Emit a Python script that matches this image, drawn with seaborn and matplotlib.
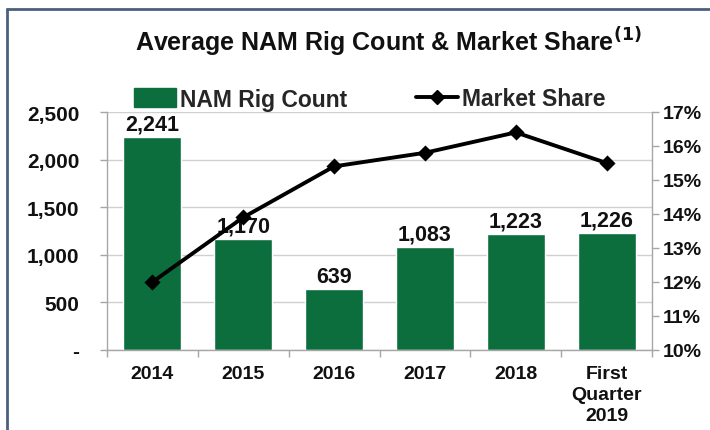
import matplotlib
matplotlib.use("Agg")
import matplotlib.pyplot as plt
import seaborn as sns
import pandas as pd
from matplotlib.lines import Line2D
from matplotlib.ticker import FixedLocator

categories = ["2014", "2015", "2016", "2017", "2018", "First\nQuarter\n2019"]
rig_count = [2241, 1170, 639, 1083, 1223, 1226]
market_share = [12.0, 13.9, 15.4, 15.8, 16.4, 15.5]
rig_labels = ["2,241", "1,170", "639", "1,083", "1,223", "1,226"]
left_ticks = [0, 500, 1000, 1500, 2000, 2500]
left_tick_labels = ["-", "500", "1,000", "1,500", "2,000", "2,500"]
right_ticks = [10, 11, 12, 13, 14, 15, 16, 17]
right_tick_labels = ["10%", "11%", "12%", "13%", "14%", "15%", "16%", "17%"]

GREEN = "#0b6e3c"
GREY = "#a6a6a6"
TXT = "#111111"

sns.set_theme(style="white")
plt.rcParams["font.family"] = ["Liberation Sans", "DejaVu Sans"]
plt.rcParams["font.weight"] = "bold"

df = pd.DataFrame({"cat": categories, "rigs": rig_count, "share": market_share})

fig = plt.figure(figsize=(7.10, 4.31), dpi=100)
ax = fig.add_axes([107 / 710, 1 - 351 / 431, (652 - 107) / 710, (351 - 113) / 431])

sns.barplot(data=df, x="cat", y="rigs", color=GREEN, saturation=1, width=0.64,
            ax=ax, zorder=2)
ax.set_ylim(0, 2500)
ax.set_yticks(left_ticks)
ax.set_yticklabels(left_tick_labels, fontsize=15, fontweight="bold", color=TXT)
ax.yaxis.grid(True, color="#d0d0d0", linewidth=1)
ax.set_axisbelow(True)
ax.set_xlabel("")
ax.set_ylabel("")
ax.set_xlim(-0.5, len(categories) - 0.5)
ax.tick_params(axis="x", which="major", length=0, pad=11, labelsize=14, labelcolor=TXT)
for lab in ax.get_xticklabels():
    lab.set_fontweight("bold")
    lab.set_linespacing(1.3)
ax.xaxis.set_minor_locator(FixedLocator([i - 0.5 for i in range(len(categories) + 1)]))
ax.tick_params(axis="x", which="minor", length=5, color=GREY, width=1, bottom=True)
ax.tick_params(axis="y", length=5, color=GREY, width=1, left=True, pad=15)
for s in ["top", "right"]:
    ax.spines[s].set_visible(False)
for s in ["left", "bottom"]:
    ax.spines[s].set_color(GREY)
    ax.spines[s].set_linewidth(1)

for i, (v, lab) in enumerate(zip(rig_count, rig_labels)):
    ax.text(i, v + 25, lab, ha="center", va="bottom", fontsize=15.5, fontweight="bold",
            color=TXT, zorder=5)

ax2 = ax.twinx()
sns.pointplot(data=df, x="cat", y="share", ax=ax2, color="black", markers="D",
              linestyles="-", markersize=6.5, linewidth=2.8, zorder=4)
ax2.set_ylim(10, 17)
ax2.set_yticks(right_ticks)
ax2.set_yticklabels(right_tick_labels, fontsize=14, fontweight="bold", color=TXT)
ax2.set_ylabel("")
ax2.set_xlabel("")
ax2.tick_params(axis="y", length=5, color=GREY, width=1, right=True, pad=3)
for s in ["top", "left", "bottom"]:
    ax2.spines[s].set_visible(False)
ax2.spines["right"].set_color(GREY)
ax2.spines["right"].set_linewidth(1)

fig.text(388 / 710, 1 - 42 / 431, "Average NAM Rig Count & Market Share$^{\\mathbf{(1)}}$",
         ha="center", va="center", fontsize=18, fontweight="bold", color=TXT)

handles = [
    plt.Rectangle((0, 0), 1, 1, color=GREEN),
    Line2D([0], [0], color="black", marker="D", markersize=7, linewidth=2.8),
]
fig.legend(handles, ["NAM Rig Count", "Market Share"], loc="center",
           bbox_to_anchor=(370 / 710, 1 - 100 / 431), ncol=2, frameon=False,
           prop={"size": 16.5, "weight": "bold"}, handlelength=1.8, handletextpad=0.2,
           columnspacing=3.0, handleheight=0.9)

fig.add_artist(Line2D([7 / 710, 7 / 710], [0, 1 - 10 / 431], color="#4a6080",
                      linewidth=2, transform=fig.transFigure))
fig.add_artist(Line2D([7 / 710, 1], [1 - 10 / 431, 1 - 10 / 431], color="#4a6080",
                      linewidth=2, transform=fig.transFigure))

fig.savefig("out.png", dpi=100)
